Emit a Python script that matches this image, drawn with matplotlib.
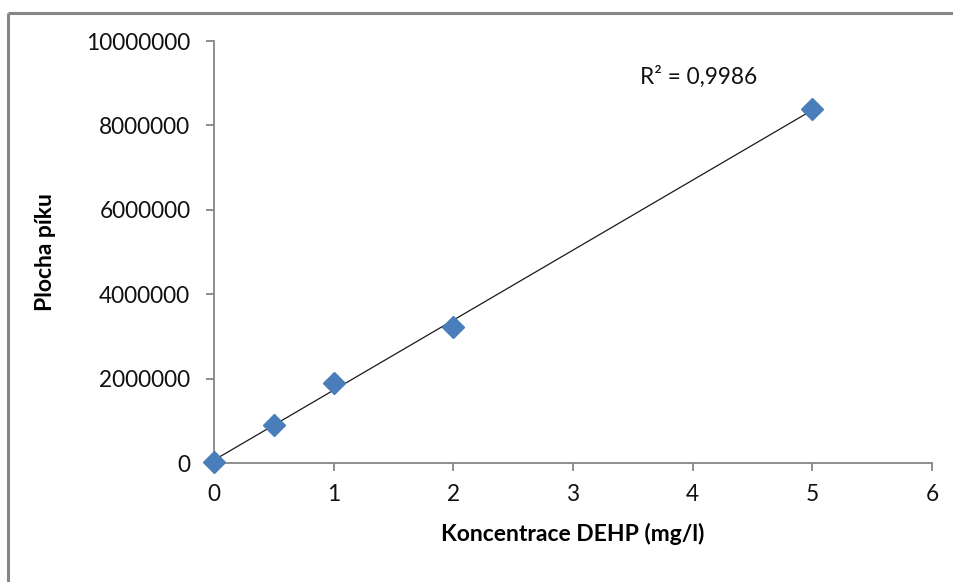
import numpy as np
import matplotlib
matplotlib.use("Agg")
import matplotlib.pyplot as plt
from matplotlib.lines import Line2D

conc = [0, 0.5, 1, 2, 5]
area = [20000, 900000, 1900000, 3230000, 8390000]
r2_label = "R² = 0,9986"
x_label = "Koncentrace DEHP (mg/l)"
y_label = "Plocha píku"
x_ticks = [0, 1, 2, 3, 4, 5, 6]
y_ticks = [0, 2000000, 4000000, 6000000, 8000000, 10000000]

plt.rcParams['font.family'] = ['Lato', 'DejaVu Sans']

W, H = 954, 582
fig = plt.figure(figsize=(W / 100, H / 100), dpi=100)
fig.patch.set_facecolor('white')
# outer chart border (only top and left visible)
bx, by = 8.5 / W, 1 - 12.5 / H
fig.add_artist(Line2D([bx, 1.1], [by, by], transform=fig.transFigure,
                      color='#868686', linewidth=2.2, solid_capstyle='butt'))
fig.add_artist(Line2D([bx, bx], [-0.1, by], transform=fig.transFigure,
                      color='#868686', linewidth=2.2, solid_capstyle='butt'))

ax = fig.add_axes([214 / W, (H - 463) / H, (932 - 214) / W, (463 - 41) / H])

# linear trend line
k, q = np.polyfit(conc, area, 1)
xs = np.array([min(conc), max(conc)])
ax.plot(xs, k * xs + q, color='#1a1a1a', linewidth=0.9, zorder=2)

ax.plot(conc, area, linestyle='none', marker='D', markersize=11.5,
        markerfacecolor='#4A7EBB', markeredgecolor='#4A7EBB', zorder=3,
        clip_on=False)

ax.set_xlim(0, 6)
ax.set_ylim(0, 10000000)
ax.set_xticks(x_ticks)
ax.set_yticks(y_ticks)
ax.set_xticklabels([str(t) for t in x_ticks])
ax.set_yticklabels([str(t) for t in y_ticks])

for s in ['top', 'right']:
    ax.spines[s].set_visible(False)
for s in ['left', 'bottom']:
    ax.spines[s].set_color('#868686')
    ax.spines[s].set_linewidth(1.3)
ax.tick_params(axis='both', direction='out', length=6, width=1.3,
               color='#868686', labelsize=16.3, labelcolor='#111111')
ax.tick_params(axis='x', pad=9)
ax.tick_params(axis='y', pad=11)

ax.set_xlabel(x_label, fontsize=16.5, fontweight='bold', labelpad=13)
ax.set_ylabel(y_label, fontsize=16.5, fontweight='bold', labelpad=22)

ax.text(3.56, 9150000, r2_label, fontsize=16.3, color='#111111',
        ha='left', va='center')

fig.savefig('out.png', dpi=100, facecolor='white')
